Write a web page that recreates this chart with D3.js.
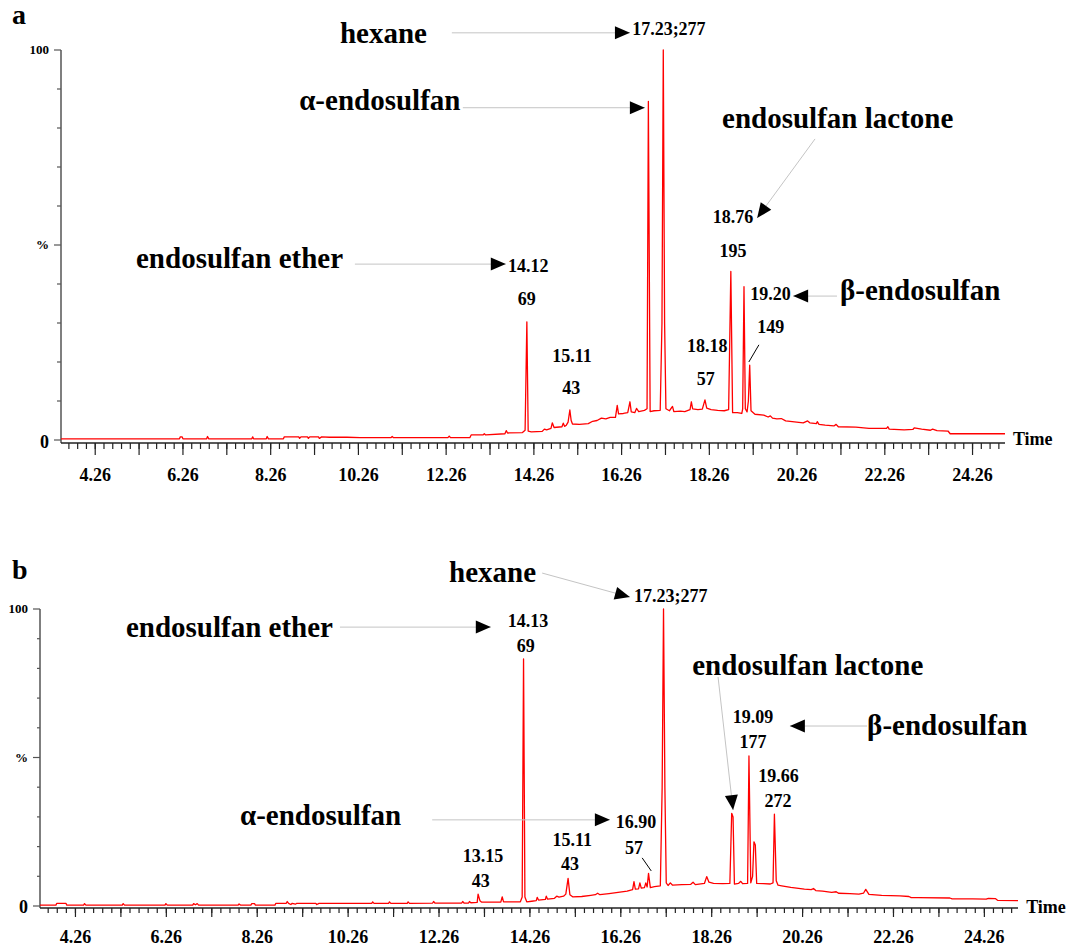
<!DOCTYPE html>
<html>
<head>
<meta charset="utf-8">
<script src="https://cdn.jsdelivr.net/npm/d3@7"></script>
<style>
  body { margin: 0; background: #fff; }
  text { font-family: "Liberation Serif", "Times New Roman", Times, serif; font-weight: bold; }
</style>
</head>
<body>
<div id="chart"></div>
<script>
// time (min), relative abundance (%)
const traceA = [
  [3.48,0.3],[6.18,0.3],[6.2,0.8],[6.24,0.8],[6.26,0.3],[6.8,0.3],[6.82,0.9],[6.85,0.3],
  [7.83,0.3],[7.85,0.8],[7.87,0.3],[8.16,0.3],[8.18,0.9],[8.21,0.3],[8.55,0.3],[8.57,0.8],
  [8.9,0.8],[8.92,0.4],[8.95,0.8],[9.1,0.8],[9.12,0.4],[9.15,0.8],[9.35,0.8],[9.37,0.4],
  [9.42,0.8],[9.6,0.7],[10.0,0.7],[10.3,0.6],[11.0,0.6],[11.03,0.9],[11.06,0.6],[12.3,0.6],
  [12.33,1.0],[12.36,0.6],[12.8,0.6],[12.83,1.3],[13.1,1.3],[13.13,1.6],[13.16,1.3],[13.6,1.6],
  [13.63,2.4],[13.66,1.8],[14.0,1.9],[14.06,2.5],[14.10,30.3],[14.13,2.3],[14.2,2.1],[14.45,2.2],
  [14.5,2.8],[14.55,2.6],[14.65,3.0],[14.68,4.4],[14.72,3.2],[14.9,3.4],[14.93,4.3],[14.96,3.5],
  [15.0,3.8],[15.04,4.6],[15.08,7.7],[15.11,5.0],[15.14,4.1],[15.3,4.0],[15.5,4.2],[15.6,4.8],
  [15.7,5.0],[15.8,5.6],[15.9,5.4],[16.0,5.8],[16.12,5.8],[16.16,8.9],[16.19,6.7],[16.3,6.8],
  [16.4,7.0],[16.45,9.8],[16.48,7.2],[16.56,7.0],[16.6,8.1],[16.65,7.3],[16.78,7.6],[16.84,8.0],
  [16.87,86.8],[16.91,7.3],[17.0,7.5],[17.14,7.6],[17.18,30],[17.21,100],[17.24,30],[17.27,8.0],
  [17.35,7.5],[17.42,8.6],[17.45,7.3],[17.6,7.4],[17.7,7.3],[17.82,7.8],[17.85,9.8],[17.88,8.0],
  [18.0,7.8],[18.1,7.9],[18.16,10.3],[18.2,8.2],[18.3,7.8],[18.45,7.6],[18.6,7.5],[18.7,7.8],
  [18.75,43.2],[18.79,7.0],[18.9,7.0],[19.0,6.8],[19.02,8],[19.05,39.3],[19.08,8],[19.12,7.2],
  [19.15,10],[19.18,19.2],[19.21,7.5],[19.3,6.6],[19.5,6.4],[19.6,5.9],[19.65,6.2],[19.7,5.6],
  [19.8,5.4],[19.9,5.5],[20.0,4.9],[20.25,4.6],[20.4,4.4],[20.5,4.9],[20.55,4.4],[20.7,4.2],
  [20.72,4.7],[20.76,4.0],[20.9,3.8],[21.1,3.6],[21.15,4.0],[21.2,3.4],[21.6,3.3],[21.9,3.0],
  [22.3,3.0],[22.33,3.4],[22.36,2.8],[22.7,2.6],[22.9,2.7],[22.93,3.1],[23.1,2.8],[23.3,2.5],
  [23.35,2.8],[23.45,2.4],[23.7,2.3],[23.75,1.6],[25.0,1.6]
];

const traceB = [
  [3.48,0.3],[3.83,0.3],[3.85,0.9],[4.05,0.9],[4.07,0.3],[4.44,0.3],[4.46,0.8],[4.49,0.3],
  [5.29,0.3],[5.31,0.8],[5.34,0.3],[6.23,0.3],[6.25,0.8],[6.28,0.3],[6.84,0.3],[6.86,0.8],
  [6.9,0.4],[6.94,0.8],[6.97,0.3],[7.84,0.3],[7.86,0.7],[7.89,0.3],[8.12,0.3],[8.14,0.8],
  [8.2,0.8],[8.22,0.3],[8.65,0.3],[8.67,0.9],[8.9,0.9],[8.92,1.5],[8.95,0.9],[9.0,0.5],
  [9.03,0.9],[9.1,0.6],[9.13,0.9],[9.55,0.9],[9.57,0.5],[9.62,0.9],[10.78,0.9],[10.8,1.4],
  [10.83,0.9],[11.15,0.9],[11.17,1.4],[11.2,0.9],[11.56,0.9],[11.58,1.4],[11.61,0.9],[12.12,1.0],
  [12.14,1.5],[12.17,1.0],[12.76,1.0],[12.78,1.5],[12.81,1.0],[12.91,1.0],[12.93,1.5],[12.96,1.1],
  [13.1,1.2],[13.12,4.0],[13.16,1.8],[13.2,1.3],[13.4,1.3],[13.62,1.3],[13.65,3.1],[13.68,1.4],
  [14.05,1.4],[14.09,3],[14.12,83.2],[14.15,3],[14.19,1.4],[14.3,1.6],[14.4,1.8],[14.42,2.9],
  [14.45,2.0],[14.6,2.2],[14.62,3.3],[14.65,2.3],[14.8,2.6],[14.85,3.3],[14.9,3.0],[15.0,3.3],
  [15.05,4.0],[15.1,9.3],[15.14,3.8],[15.2,3.1],[15.4,3.2],[15.6,3.6],[15.7,3.8],[15.75,4.3],
  [15.8,3.8],[16.0,4.2],[16.2,4.6],[16.4,5.0],[16.52,5.5],[16.55,8.2],[16.58,5.7],[16.65,5.8],
  [16.68,7.8],[16.71,6.0],[16.78,6.2],[16.81,7.8],[16.84,6.4],[16.87,11],[16.91,6.2],[17.0,6.5],
  [17.13,6.8],[17.17,40],[17.2,100],[17.23,40],[17.26,7.8],[17.3,6.9],[17.35,7.8],[17.4,7.0],
  [17.6,7.2],[17.8,7.3],[17.85,8.0],[17.9,7.2],[18.1,7.6],[18.15,9.9],[18.2,8.0],[18.3,7.6],
  [18.5,7.5],[18.66,7.6],[18.7,31.2],[18.73,30],[18.76,7.4],[18.85,7.6],[18.9,8.3],[18.94,7.5],
  [19.05,7.6],[19.08,50.5],[19.12,7.8],[19.16,10],[19.19,21.6],[19.22,20.5],[19.25,7.6],[19.4,7.5],
  [19.55,7.4],[19.61,7.8],[19.64,30.9],[19.68,8.5],[19.72,7.0],[19.8,6.8],[20.0,6.3],[20.3,5.7],
  [20.45,5.5],[20.5,5.9],[20.55,5.2],[20.7,5.0],[20.9,4.6],[21.0,4.8],[21.05,4.3],[21.3,4.2],
  [21.5,4.0],[21.6,4.3],[21.65,5.6],[21.72,3.9],[22.0,3.6],[22.4,3.4],[22.6,3.2],[22.65,2.8],
  [22.8,2.8],[23.5,2.7],[23.55,2.4],[24.0,2.4],[24.3,2.3],[24.35,2.6],[24.5,2.5],[24.55,1.9],
  [25.0,1.8]
];

const timeDomain = [3.48, 25.0];
const tickLabels = ["4.26","6.26","8.26","10.26","12.26","14.26","16.26","18.26","20.26","22.26","24.26"];
const majorTicks = d3.range(0, 21).map(i => 4.26 + i);
const minorTicks = d3.range(-3, 104).map(i => 4.26 + i * 0.2).filter(t => t > timeDomain[0] && t < timeDomain[1]);
const yTicks = d3.range(0, 101, 10);
const yLabels = [[100, "100"], [50, "%"], [0, "0"]];

// annotation text anchored in data space [time, %, text, kind, anchor]
const notesA = [
  [9.84, 101.8, "hexane", "big", "start"],
  [16.50, 103.8, "17.23;277", "num", "start"],
  [8.91, 84.6, "α-endosulfan", "big", "start"],
  [5.19, 44.1, "endosulfan ether", "big", "start"],
  [13.67, 43.1, "14.12", "num", "start"],
  [14.10, 34.6, "69", "num", "middle"],
  [15.13, 20.0, "15.11", "num", "middle"],
  [15.11, 11.8, "43", "num", "middle"],
  [18.21, 22.6, "18.18", "num", "middle"],
  [18.18, 14.1, "57", "num", "middle"],
  [18.55, 80.0, "endosulfan lactone", "big", "start"],
  [19.26, 55.6, "18.76", "num", "end"],
  [18.80, 46.9, "195", "num", "middle"],
  [19.19, 35.9, "19.20", "num", "start"],
  [21.24, 35.9, "β-endosulfan", "big", "start"],
  [19.35, 27.4, "149", "num", "start"],
  [25.18, -1.3, "Time", "num", "start"]
];
const arrowsA = [
  [12.39, 104.4, 16.45, 104.4],
  [12.64, 85.2, 16.79, 85.2],
  [10.18, 45.1, 13.62, 45.1],
  [20.67, 77.2, 19.35, 56.9],
  [21.17, 36.9, 20.17, 36.9]
];
const leadersA = [[19.39, 24.4, 19.16, 20.0]];

const notesB = [
  [5.37, 90.6, "endosulfan ether", "big", "start"],
  [14.22, 93.9, "14.13", "num", "middle"],
  [14.17, 85.5, "69", "num", "middle"],
  [12.48, 109.1, "hexane", "big", "start"],
  [16.55, 102.4, "17.23;277", "num", "start"],
  [17.83, 77.8, "endosulfan lactone", "big", "start"],
  [19.17, 61.6, "19.09", "num", "middle"],
  [19.17, 53.2, "177", "num", "middle"],
  [21.68, 57.6, "β-endosulfan", "big", "start"],
  [19.73, 41.8, "19.66", "num", "middle"],
  [19.72, 33.3, "272", "num", "middle"],
  [7.88, 27.3, "α-endosulfan", "big", "start"],
  [16.15, 26.3, "16.90", "num", "start"],
  [16.55, 17.5, "57", "num", "middle"],
  [13.23, 14.8, "13.15", "num", "middle"],
  [13.18, 6.4, "43", "num", "middle"],
  [15.19, 20.2, "15.11", "num", "middle"],
  [15.14, 12.1, "43", "num", "middle"],
  [25.18, -2.4, "Time", "num", "start"]
];
const arrowsB = [
  [10.08, 93.9, 13.40, 93.9],
  [14.53, 112.1, 16.46, 104.0],
  [18.40, 77.1, 18.73, 32.3],
  [21.68, 60.6, 19.98, 60.6],
  [12.11, 29.0, 16.02, 29.0]
];
const leadersB = [[16.73, 16.2, 16.93, 11.8]];

const fontSize = { big: 29, num: 18 };

const panels = [
  { letter: "a", trace: traceA, notes: notesA, arrows: arrowsA, leaders: leadersA,
    left: 61, right: 1005, top: 50, zero: 440, axisY: 443, letterY: 24, labelY: 481,
    xMinor: 6, xMajor: 12, yMinor: 4, yMajor: 7, zeroDy: 8 },
  { letter: "b", trace: traceB, notes: notesB, arrows: arrowsB, leaders: leadersB,
    left: 40, right: 1018, top: 609, zero: 906, axisY: 908, letterY: 579, labelY: 943,
    xMinor: 5, xMajor: 9, yMinor: 3, yMajor: 7, zeroDy: 7 }
];

const svg = d3.select("#chart").append("svg")
  .attr("width", 1071).attr("height", 948)
  .style("display", "block");

panels.forEach(p => {
  const x = d3.scaleLinear().domain(timeDomain).range([p.left, p.right]);
  const y = d3.scaleLinear().domain([0, 100]).range([p.zero, p.top]);
  const g = svg.append("g");

  g.append("text").attr("x", 12).attr("y", p.letterY).attr("font-size", 28).text(p.letter);

  // y axis
  g.append("line").attr("x1", p.left).attr("x2", p.left).attr("y1", y(100)).attr("y2", p.axisY)
    .attr("stroke", "#555").attr("stroke-width", 1.5);
  g.selectAll(".ytick").data(yTicks).enter().append("line")
    .attr("x1", d => p.left - (d % 50 === 0 ? p.yMajor : p.yMinor)).attr("x2", p.left)
    .attr("y1", d => y(d)).attr("y2", d => y(d))
    .attr("stroke", "#555").attr("stroke-width", 1.2);
  g.selectAll(".ylab").data(yLabels).enter().append("text")
    .attr("x", p.left - 12)
    .attr("y", d => y(d[0]) + (d[0] === 0 ? p.zeroDy : 4))
    .attr("text-anchor", "end")
    .attr("font-size", d => d[0] === 0 ? 18 : 13)
    .text(d => d[1]);

  // x axis
  g.append("line").attr("x1", p.left).attr("x2", p.right).attr("y1", p.axisY).attr("y2", p.axisY)
    .attr("stroke", "#222").attr("stroke-width", 1.5);
  g.selectAll(".xminor").data(minorTicks).enter().append("line")
    .attr("x1", d => x(d)).attr("x2", d => x(d))
    .attr("y1", p.axisY).attr("y2", p.axisY + p.xMinor)
    .attr("stroke", "#222").attr("stroke-width", 1.2);
  g.selectAll(".xmajor").data(majorTicks).enter().append("line")
    .attr("x1", d => x(d)).attr("x2", d => x(d))
    .attr("y1", p.axisY).attr("y2", p.axisY + p.xMajor)
    .attr("stroke", "#222").attr("stroke-width", 1.2);
  g.selectAll(".xlab").data(tickLabels).enter().append("text")
    .attr("x", d => x(+d)).attr("y", p.labelY)
    .attr("text-anchor", "middle").attr("font-size", 18)
    .text(d => d);

  // chromatogram
  const line = d3.line().x(d => x(d[0])).y(d => y(d[1]));
  g.append("path").datum(p.trace).attr("d", line)
    .attr("fill", "none").attr("stroke", "#ff0000").attr("stroke-width", 1.3)
    .attr("stroke-linejoin", "round");

  // arrows: thin grey line with black head at the end
  p.arrows.forEach(a => {
    const x1 = x(a[0]), y1 = y(a[1]), x2 = x(a[2]), y2 = y(a[3]);
    g.append("line").attr("x1", x1).attr("y1", y1).attr("x2", x2).attr("y2", y2)
      .attr("stroke", "#c4c4c4").attr("stroke-width", 1);
    const ang = Math.atan2(y2 - y1, x2 - x1), len = 15, hw = 6.5;
    const bx = x2 - len * Math.cos(ang), by = y2 - len * Math.sin(ang);
    const px = -Math.sin(ang) * hw, py = Math.cos(ang) * hw;
    g.append("polygon")
      .attr("points", [[x2, y2], [bx + px, by + py], [bx - px, by - py]].map(q => q.join(",")).join(" "))
      .attr("fill", "#000");
  });

  p.leaders.forEach(l => {
    g.append("line").attr("x1", x(l[0])).attr("y1", y(l[1])).attr("x2", x(l[2])).attr("y2", y(l[3]))
      .attr("stroke", "#000").attr("stroke-width", 1);
  });

  g.selectAll(".note").data(p.notes).enter().append("text")
    .attr("x", d => x(d[0])).attr("y", d => y(d[1]))
    .attr("text-anchor", d => d[4])
    .attr("font-size", d => fontSize[d[3]])
    .text(d => d[2]);
});
</script>
</body>
</html>
